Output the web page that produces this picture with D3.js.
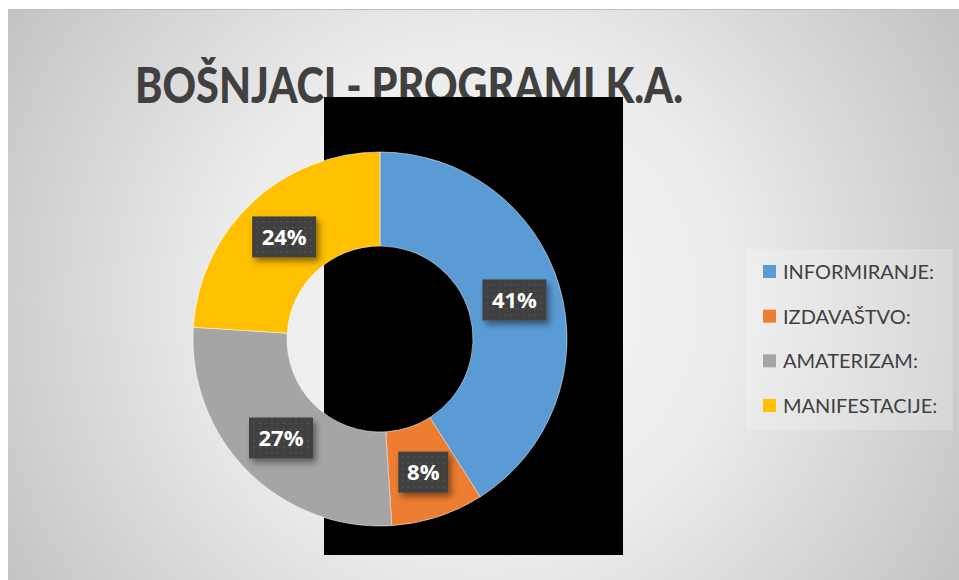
<!DOCTYPE html>
<html>
<head>
<meta charset="utf-8">
<script src="https://cdn.jsdelivr.net/npm/d3@7"></script>
<style>
  body { margin: 0; background: #fff; }
  svg { display: block; }
</style>
</head>
<body>
<div id="chart"></div>
<script>
// values
var categories = ["INFORMIRANJE:", "IZDAVAŠTVO:", "AMATERIZAM:", "MANIFESTACIJE:"];
var values = [41, 8, 27, 24];
var colors = ["#5B9BD5", "#ED7D31", "#A5A5A5", "#FFC000"];
var title = "BOŠNJACI - PROGRAMI K.A.";

var width = 959, height = 580;

var svg = d3.select("#chart")
	.append("svg")
	.attr("width", width)
	.attr("height", height);

var defs = svg.append("defs");

var grad = defs.append("radialGradient")
	.attr("id", "bg")
	.attr("gradientUnits", "userSpaceOnUse")
	.attr("cx", 480).attr("cy", 300).attr("r", 560);
grad.append("stop").attr("offset", "0%").attr("stop-color", "#f6f6f6");
grad.append("stop").attr("offset", "45%").attr("stop-color", "#ececec");
grad.append("stop").attr("offset", "100%").attr("stop-color", "#c2c2c2");

// dotted dark fill of the data labels
var pat = defs.append("pattern")
	.attr("id", "dots")
	.attr("patternUnits", "userSpaceOnUse")
	.attr("width", 6).attr("height", 6);
pat.append("rect").attr("width", 6).attr("height", 6).attr("fill", "#404040");
pat.append("rect").attr("x", 2).attr("y", 2).attr("width", 2).attr("height", 2).attr("fill", "#4d4d4d");

var shadow = defs.append("filter")
	.attr("id", "shadow")
	.attr("x", "-30%").attr("y", "-30%")
	.attr("width", "170%").attr("height", "180%");
shadow.append("feDropShadow")
	.attr("dx", 3).attr("dy", 4)
	.attr("stdDeviation", 3)
	.attr("flood-color", "#000")
	.attr("flood-opacity", 0.45);

// chart area
svg.append("rect")
	.attr("x", 8).attr("y", 9)
	.attr("width", width - 8).attr("height", height - 9)
	.attr("fill", "url(#bg)");
svg.append("line")
	.attr("x1", 8).attr("x2", width)
	.attr("y1", 9.5).attr("y2", 9.5)
	.attr("stroke", "#bdbdbd").attr("stroke-width", 1);

// title
svg.append("text")
	.attr("x", 135)
	.attr("y", 103)
	.attr("font-family", "Lato, 'Open Sans', sans-serif")
	.attr("font-weight", "900")
	.attr("font-size", 50)
	.attr("fill", "#404040")
	.attr("textLength", 548)
	.attr("lengthAdjust", "spacingAndGlyphs")
	.text(title);

// black block behind the donut
svg.append("rect")
	.attr("x", 324).attr("y", 97)
	.attr("width", 299).attr("height", 458)
	.attr("fill", "#000");

// donut
var cx = 380, cy = 339, outerR = 187, innerR = 93;

var pie = d3.pie().sort(null).value(function(d) { return d; });
var arcs = pie(values);

var arc = d3.arc().innerRadius(innerR).outerRadius(outerR);
var labelArc = d3.arc().innerRadius((innerR + outerR) / 2).outerRadius((innerR + outerR) / 2);

var g = svg.append("g").attr("transform", "translate(" + cx + "," + cy + ")");

g.selectAll("path")
	.data(arcs)
	.enter()
	.append("path")
	.attr("d", arc)
	.attr("fill", function(d, i) { return colors[i]; })
	.attr("stroke", "#fff")
	.attr("stroke-width", 0.5);

var total = d3.sum(values);

var labels = g.selectAll("g.lab")
	.data(arcs)
	.enter()
	.append("g")
	.attr("class", "lab")
	.attr("transform", function(d) { var c = labelArc.centroid(d); return "translate(" + c[0] + "," + c[1] + ")"; });

labels.append("rect")
	.attr("x", function(d) { return d.data < 10 ? -25 : -32; })
	.attr("y", -20.5)
	.attr("width", function(d) { return d.data < 10 ? 50 : 64; })
	.attr("height", 41)
	.attr("fill", "url(#dots)")
	.attr("filter", "url(#shadow)");

labels.append("text")
	.attr("text-anchor", "middle")
	.attr("dy", "0.36em")
	.attr("font-family", "'Open Sans', sans-serif")
	.attr("font-weight", "bold")
	.attr("font-size", 22)
	.attr("fill", "#fff")
	.text(function(d) { return Math.round(d.data / total * 100) + "%"; });

// legend
svg.append("rect")
	.attr("x", 746).attr("y", 249)
	.attr("width", 207).attr("height", 181)
	.attr("fill", "#fff")
	.attr("fill-opacity", 0.22);

var y = d3.scalePoint()
	.domain(categories)
	.range([272, 406]);

var leg = svg.selectAll("g.leg")
	.data(categories)
	.enter()
	.append("g")
	.attr("class", "leg")
	.attr("transform", function(d) { return "translate(763," + y(d) + ")"; });

leg.append("rect")
	.attr("x", 0).attr("y", -7)
	.attr("width", 13).attr("height", 13)
	.attr("fill", function(d, i) { return colors[i]; });

leg.append("text")
	.attr("x", 20)
	.attr("dy", "0.35em")
	.attr("font-family", "Lato, 'Open Sans', sans-serif")
	.attr("font-size", 20)
	.attr("fill", "#404040")
	.text(function(d) { return d; });
</script>
</body>
</html>
